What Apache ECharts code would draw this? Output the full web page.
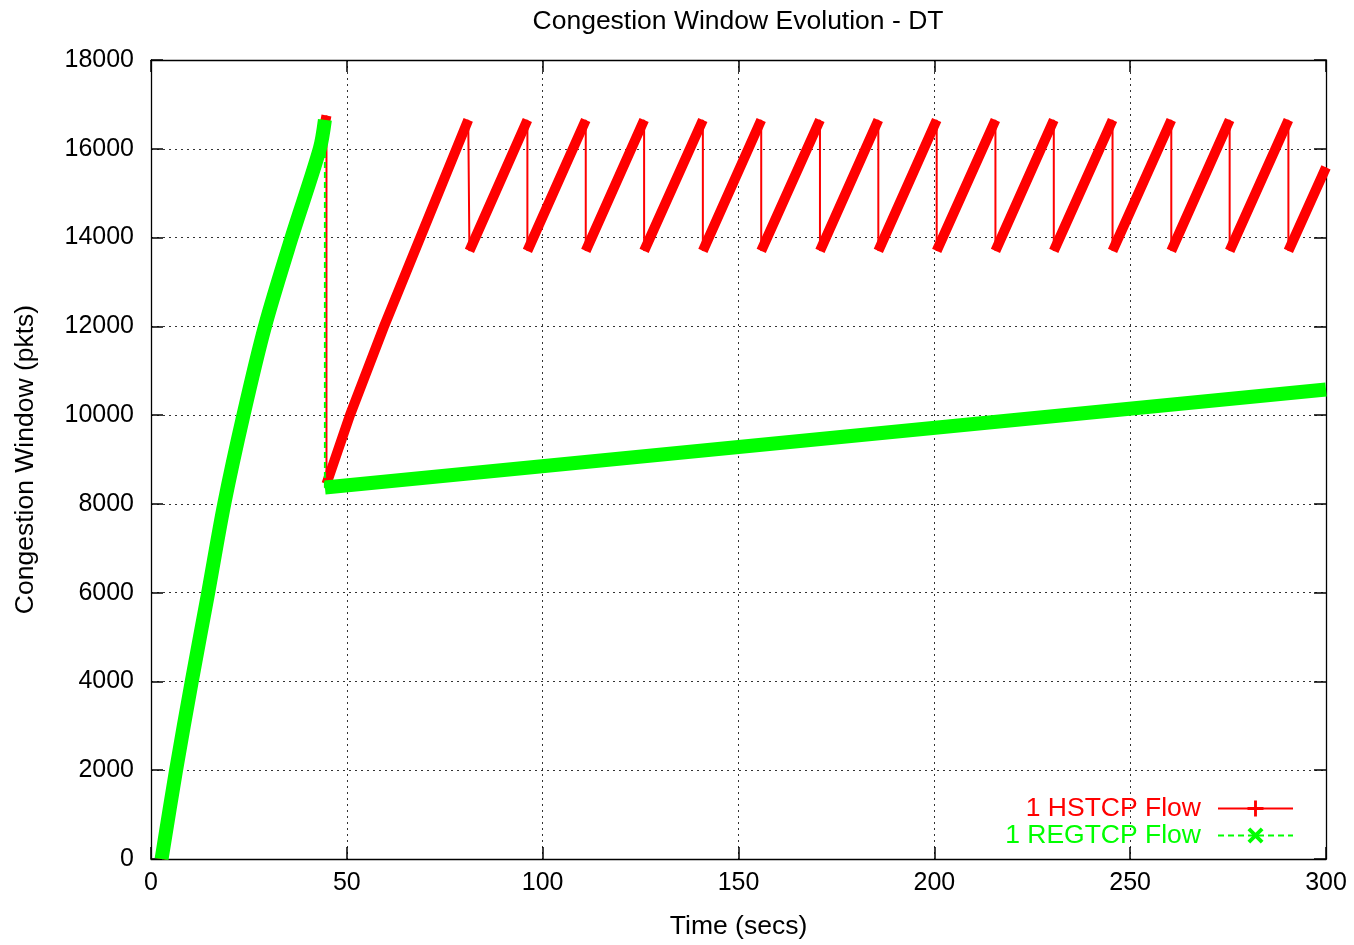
<!DOCTYPE html>
<html>
<head>
<meta charset="utf-8">
<title>Congestion Window Evolution - DT</title>
<script src="https://cdn.jsdelivr.net/npm/echarts@6/dist/echarts.min.js"></script>
<style>
    html, body { margin: 0; padding: 0; background: #fff; }
    #chart { width: 1354px; height: 945px; }
</style>
</head>
<body>
<div id="chart"></div>
<script>
    // tick labels
    const xTicks = [0, 50, 100, 150, 200, 250, 300]
    const yTicks = [0, 2000, 4000, 6000, 8000, 10000, 12000, 14000, 16000, 18000]

    // 1 HSTCP Flow: [time (s), cwnd (pkts)]
    const hstcpPoints = [
        [2.7, 0], [6.4, 2000], [10.4, 4000], [14.6, 6000], [18.7, 8000], [23.6, 10000],
        [29.1, 12000], [35.9, 14000], [43.1, 16000], [44.8, 16750],
        [44.8, 8450], [50.8, 10000], [59.5, 12000], [81.0, 16650],
        [81.3, 13700], [96.1, 16650],
        [96.1, 13700], [111.0, 16650],
        [111.0, 13700], [125.9, 16650],
        [125.9, 13700], [140.9, 16650],
        [140.9, 13700], [155.8, 16650],
        [155.8, 13700], [170.8, 16650],
        [170.8, 13700], [185.7, 16650],
        [185.7, 13700], [200.6, 16650],
        [200.6, 13700], [215.6, 16650],
        [215.6, 13700], [230.5, 16650],
        [230.5, 13700], [245.5, 16650],
        [245.5, 13700], [260.5, 16650],
        [260.5, 13700], [275.4, 16650],
        [275.4, 13700], [290.4, 16650],
        [290.4, 13700], [300, 15580]
    ]

    // 1 REGTCP Flow
    const regtcpPoints = [
        [2.7, 0], [6.4, 2000], [10.4, 4000], [14.6, 6000], [18.7, 8000], [23.6, 10000],
        [29.1, 12000], [35.9, 14000], [43.1, 16000], [44.4, 16650],
        [44.4, 8370], [300, 10575]
    ]

    const FONT = "'Liberation Sans', Arial, Helvetica, sans-serif"
    const TXT = 26.5

    // thick band for the rising parts, broken at each drop (y goes down)
    function thickParts(points) {
        const out = []
        points.forEach((p, i) => {
            if (i > 0 && p[1] < points[i - 1][1] - 1000) out.push([p[0], '-'])
            out.push(p)
        })
        return out
    }

    const plus = 'path://M4.1,0H5.9V4.1H10V5.9H5.9V10H4.1V5.9H0V4.1H4.1Z'
    const cross = 'path://M0,1.7L1.7,0L5,3.3L8.3,0L10,1.7L6.7,5L10,8.3L8.3,10L5,6.7L1.7,10L0,8.3L3.3,5Z'

    const chart = echarts.init(document.getElementById('chart'))

    const axisCommon = {
        type: 'value',
        axisLine: { show: true, onZero: false, lineStyle: { color: '#000', width: 1.3 } },
        axisTick: { show: true, inside: true, length: 12, lineStyle: { color: '#000', width: 1.5 } },
    }
    const gridLine = { show: true, lineStyle: { color: '#333', type: [2, 4], width: 1 } }

    const option = {
        animation: false,
        backgroundColor: '#fff',
        title: {
            text: 'Congestion Window Evolution - DT',
            left: 738,
            textAlign: 'center',
            top: 8,
            padding: 0,
            textStyle: { fontFamily: FONT, fontSize: TXT, fontWeight: 'normal', color: '#000' }
        },
        legend: {
            orient: 'vertical',
            right: 55,
            top: 790,
            align: 'right',
            itemWidth: 75,
            itemHeight: 20,
            itemGap: 0,
            selectedMode: false,
            textStyle: { fontFamily: FONT, fontSize: TXT, padding: [0, 12, 0, 0] },
            data: [
                { name: '1 HSTCP Flow', textStyle: { color: '#ff0000' } },
                { name: '1 REGTCP Flow', textStyle: { color: '#00ff00' } }
            ]
        },
        grid: { left: 151, right: 28, top: 60, bottom: 85 },
        xAxis: [
            Object.assign({}, axisCommon, {
                position: 'bottom',
                min: 0, max: 300, interval: 50,
                name: 'Time (secs)',
                nameLocation: 'middle',
                nameGap: 54,
                nameTextStyle: { fontFamily: FONT, fontSize: TXT, color: '#000' },
                axisLabel: {
                    fontFamily: FONT, fontSize: 25, color: '#000', margin: 12,
                    customValues: xTicks, formatter: v => String(v)
                },
                splitLine: gridLine
            }),
            Object.assign({}, axisCommon, {
                position: 'top',
                min: 0, max: 300, interval: 50,
                axisLabel: { show: false },
                splitLine: { show: false }
            })
        ],
        yAxis: [
            Object.assign({}, axisCommon, {
                position: 'left',
                min: 0, max: 18000, interval: 2000,
                name: 'Congestion Window (pkts)',
                nameLocation: 'middle',
                nameGap: 112,
                nameTextStyle: { fontFamily: FONT, fontSize: TXT, color: '#000' },
                axisLabel: {
                    fontFamily: FONT, fontSize: 25, color: '#000', margin: 17,
                    customValues: yTicks, formatter: v => String(v)
                },
                splitLine: gridLine
            }),
            Object.assign({}, axisCommon, {
                position: 'right',
                min: 0, max: 18000, interval: 2000,
                axisLabel: { show: false },
                splitLine: { show: false }
            })
        ],
        series: [
            // HSTCP: thin path + thick band
            {
                name: 'hs-thin', type: 'line', data: hstcpPoints,
                symbol: 'none', silent: true,
                lineStyle: { color: '#ff0000', width: 2 }
            },
            {
                name: 'hs-thick', type: 'line', data: thickParts(hstcpPoints),
                symbol: 'none', silent: true, connectNulls: false,
                lineStyle: { color: '#ff0000', width: 10, cap: 'butt', join: 'round' }
            },
            // REGTCP on top
            {
                name: 'reg-thin', type: 'line', data: regtcpPoints,
                symbol: 'none', silent: true,
                lineStyle: { color: '#00ff00', width: 2, type: [6, 4] }
            },
            {
                name: 'reg-thick', type: 'line', data: thickParts(regtcpPoints),
                symbol: 'none', silent: true, connectNulls: false, smooth: 0.3,
                lineStyle: { color: '#00ff00', width: 14, cap: 'butt', join: 'round' }
            },
            // legend entries
            {
                name: '1 HSTCP Flow', type: 'line', data: [],
                symbol: plus, symbolSize: 14,
                itemStyle: { color: '#ff0000' },
                lineStyle: { color: '#ff0000', width: 2.5 }
            },
            {
                name: '1 REGTCP Flow', type: 'line', data: [],
                symbol: cross, symbolSize: 14,
                itemStyle: { color: '#00ff00' },
                lineStyle: { color: '#00ff00', width: 2.5, type: [6, 4] }
            }
        ]
    }

    chart.setOption(option)
</script>
</body>
</html>
